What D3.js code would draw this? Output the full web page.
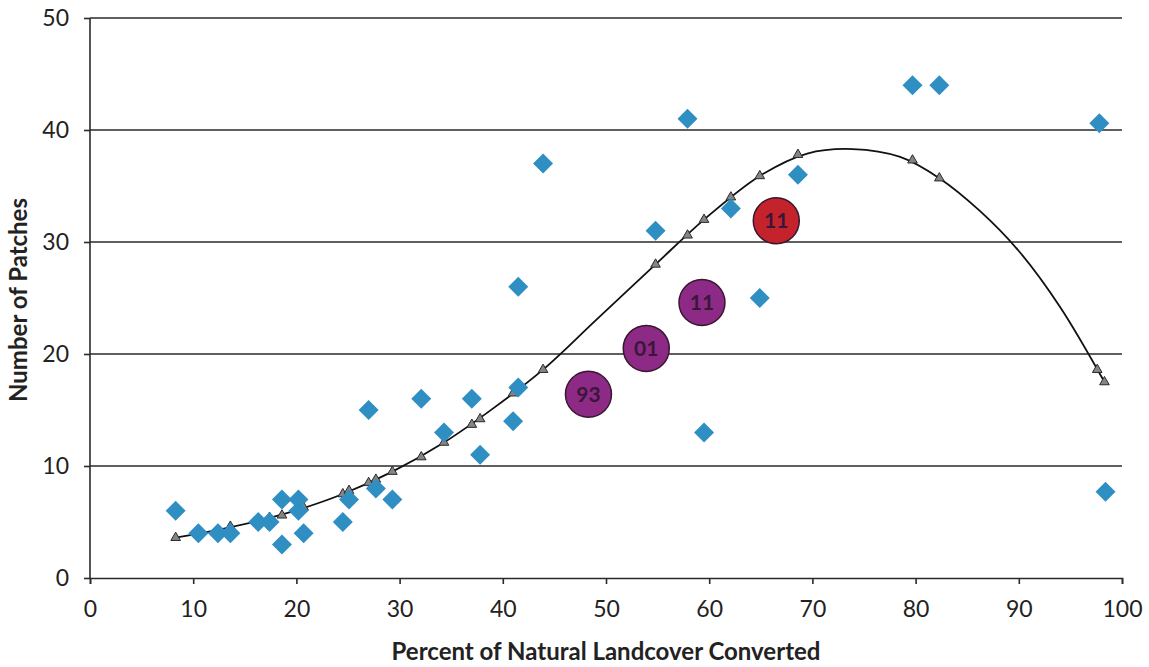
<!DOCTYPE html>
<html>
<head>
<meta charset="utf-8">
<script src="https://cdn.jsdelivr.net/npm/d3@7"></script>
<style>
  body { margin: 0; background: #fff; }
  .chart text { font-family: Lato, "Open Sans", sans-serif; fill: #222; }
</style>
</head>
<body>
<div class="chart"></div>
<script>
// Observed points (blue diamonds)
var obsX = [8.3, 10.5, 12.4, 13.6, 16.3, 17.4, 18.6, 18.6, 20.2, 20.2, 20.7, 24.5, 25.1, 27.0, 27.7, 29.3,
  32.1, 34.3, 37.0, 37.8, 41.0, 41.5, 41.5, 43.9, 54.8, 57.9, 59.5, 62.1, 64.9, 68.6, 79.7, 82.3, 97.8, 98.4];
var obsY = [6, 4, 4, 4, 5, 5, 7, 3, 7, 6, 4, 5, 7, 15, 8, 7,
  16, 13, 16, 11, 14, 17, 26, 37, 31, 41, 13, 33, 25, 36, 44, 44, 40.6, 7.7];

// Fitted values (grey triangles)
var fitX = [8.3, 10.5, 12.4, 13.6, 16.3, 17.4, 18.6, 20.2, 20.7, 24.5, 25.1, 27.0, 27.7, 29.3,
  32.1, 34.3, 37.0, 37.8, 41.0, 41.5, 43.9, 54.8, 57.9, 59.5, 62.1, 64.9, 68.6, 79.7, 82.3, 97.6, 98.3];
var fitY = [3.6, 4.0, 4.3, 4.6, 5.1, 5.4, 5.6, 6.1, 6.3, 7.5, 7.8, 8.5, 8.8, 9.5,
  10.8, 12.1, 13.7, 14.2, 16.5, 16.9, 18.6, 28.0, 30.6, 32.0, 34.0, 35.9, 37.8, 37.3, 35.7, 18.6, 17.5];

// Trend line
var trendX = [8.3, 12.4, 16.3, 20.2, 24.5, 29.3, 34.3, 39.0, 43.9, 49.0, 54.8,
  59.5, 64.9, 69.5, 73.9, 78.5, 82.3, 86.2, 90.0, 94.0, 98.3];
var trendY = [3.6, 4.3, 5.1, 6.1, 7.5, 9.5, 12.1, 15.1, 18.6, 23.0, 28.0,
  32.0, 35.9, 37.9, 38.3, 37.6, 35.7, 32.8, 29.2, 24.2, 17.5];

// Highlighted years
var yearLabels = ["93", "01", "11", "11"];
var yearX = [48.3, 53.9, 59.3, 66.5];
var yearY = [16.4, 20.5, 24.6, 31.9];
var yearColors = ["#8d2a86", "#8d2a86", "#8d2a86", "#c4232c"];

var xTicks = [0, 10, 20, 30, 40, 50, 60, 70, 80, 90, 100];
var yTicks = [0, 10, 20, 30, 40, 50];

var svgWidth = 1149;
var svgHeight = 667;
var margin = {top: 18, right: 27, bottom: 89, left: 90};
var width = svgWidth - margin.left - margin.right;
var height = svgHeight - margin.top - margin.bottom;

var svg = d3.select(".chart")
  .append("svg")
  .attr("width", svgWidth)
  .attr("height", svgHeight);

var chart = svg.append("g")
  .attr("transform", "translate(" + margin.left + "," + margin.top + ")");

var x = d3.scaleLinear().domain([0, 100]).range([0, width]);
var y = d3.scaleLinear().domain([0, 50]).range([height, 0]);

// Horizontal gridlines
chart.selectAll(".grid")
  .data(yTicks.slice(1))
  .enter().append("line")
  .attr("x1", 0).attr("x2", width)
  .attr("y1", function(d) { return y(d); })
  .attr("y2", function(d) { return y(d); })
  .attr("stroke", "#2a2a2a")
  .attr("stroke-width", 1.6);

// Axes
var leftAxis = d3.axisLeft(y).tickValues(yTicks).tickSize(6).tickPadding(15);
var bottomAxis = d3.axisBottom(x).tickValues(xTicks).tickSize(6).tickPadding(17);

var yAxisG = chart.append("g").call(leftAxis);
var xAxisG = chart.append("g").attr("transform", "translate(0," + height + ")").call(bottomAxis);

[yAxisG, xAxisG].forEach(function(g) {
  g.select(".domain").attr("stroke", "#2a2a2a").attr("stroke-width", 1.6);
  g.selectAll(".tick line").attr("stroke", "#2a2a2a").attr("stroke-width", 1.6);
  g.selectAll(".tick text").attr("font-size", 23).attr("fill", "#222")
    .style("font-family", "Lato, 'Open Sans', sans-serif");
});
yAxisG.select(".domain").attr("d", "M0," + (height) + "V0");

// Trend curve
var line = d3.line()
  .x(function(d) { return x(d[0]); })
  .y(function(d) { return y(d[1]); })
  .curve(d3.curveCatmullRom.alpha(0.5));

chart.append("path")
  .datum(d3.zip(trendX, trendY))
  .attr("d", line)
  .attr("fill", "none")
  .attr("stroke", "#111")
  .attr("stroke-width", 1.8);

// Fitted triangles
chart.selectAll(".fit")
  .data(d3.zip(fitX, fitY))
  .enter().append("path")
  .attr("d", d3.symbol().type(d3.symbolTriangle).size(40))
  .attr("transform", function(d) { return "translate(" + x(d[0]) + "," + y(d[1]) + ")"; })
  .attr("fill", "#858585")
  .attr("stroke", "#2a2a2a")
  .attr("stroke-width", 1);

// Observed diamonds
chart.selectAll(".obs")
  .data(d3.zip(obsX, obsY))
  .enter().append("path")
  .attr("d", d3.symbol().type(d3.symbolSquare).size(200))
  .attr("transform", function(d) { return "translate(" + x(d[0]) + "," + y(d[1]) + ") rotate(45)"; })
  .attr("fill", "#2f8fc3");

// Year bubbles
var bubbles = chart.selectAll(".year")
  .data(yearLabels)
  .enter().append("g")
  .attr("transform", function(d, i) { return "translate(" + x(yearX[i]) + "," + y(yearY[i]) + ")"; });

bubbles.append("circle")
  .attr("r", 23)
  .attr("fill", function(d, i) { return yearColors[i]; })
  .attr("stroke", "#3a1630")
  .attr("stroke-width", 1.5);

bubbles.append("text")
  .attr("text-anchor", "middle")
  .attr("dy", "0.36em")
  .attr("font-size", 21)
  .attr("font-weight", "bold")
  .style("fill", "#3a1738")
  .text(function(d) { return d; });

// Axis titles
svg.append("text")
  .attr("x", 606)
  .attr("y", 660)
  .attr("text-anchor", "middle")
  .attr("font-size", 24)
  .attr("font-weight", "bold")
  .text("Percent of Natural Landcover Converted");

svg.append("text")
  .attr("transform", "translate(27," + 300 + ") rotate(-90)")
  .attr("text-anchor", "middle")
  .attr("font-size", 24)
  .attr("font-weight", "bold")
  .text("Number of Patches");
</script>
</body>
</html>
